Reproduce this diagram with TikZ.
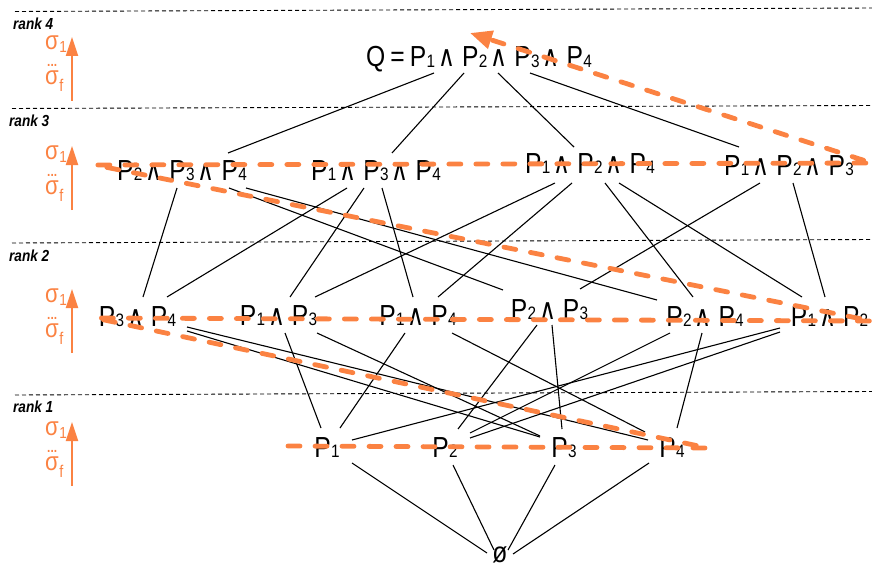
\documentclass[tikz,border=0pt]{standalone}
\usepackage{fontspec}
\setmainfont{Liberation Sans}[FakeStretch=0.85]
\newfontfamily\andfont{DejaVu Sans}[FakeStretch=0.8]
\usetikzlibrary{arrows.meta}
\definecolor{routecol}{RGB}{251,130,66}

\newcommand\nodefont{\fontsize{29}{30}\selectfont}
\newcommand\subfont{\fontsize{18}{18}\selectfont}
\newcommand\Pn[1]{P\kern0.3pt\raisebox{-0.5pt}{\subfont #1}}
\newcommand\AND{\kern3pt{\andfont\fontsize{29}{30}\selectfont ∧}\kern7pt}
\newcommand\sig[1]{σ\kern0.5pt\raisebox{-3pt}{\fontsize{16}{16}\selectfont #1}}
\newcommand\link[6]{\draw[edge] ([shift={(#2,#3)}]#1.base) -- ([shift={(#5,#6)}]#4.base);}

\begin{document}
\begin{tikzpicture}[x=1pt,y=-1pt,
  lbl/.style={inner sep=0pt, outer sep=0pt, anchor=base, font=\nodefont},
  edge/.style={black, line width=1.1pt},
  sep/.style={black, line width=0.9pt, dash pattern=on 4pt off 3pt},
  ranklbl/.style={inner sep=0pt, anchor=base west, font=\bfseries\itshape\fontsize{16}{16}\selectfont},
  siglbl/.style={inner sep=0pt, anchor=base west, text=routecol, font=\fontsize{26}{26}\selectfont},
  dotlbl/.style={inner sep=0pt, anchor=base west, text=routecol, font=\bfseries\fontsize{14}{14}\selectfont},
  sigarrow/.style={draw=routecol, line width=2.2pt, -{Triangle[length=19pt,width=12pt]}},
  route/.style={draw=routecol, line width=4.8pt, line cap=round, line join=round,
    dash pattern=on 12pt off 15pt, -{Triangle[length=22pt,width=18pt]}}]
\useasboundingbox (0,0) rectangle (872,567);

% rank separators
\draw[sep] (15,11.5) -- (872,8);
\draw[sep] (12,108.5) -- (872,105.5);
\draw[sep] (12,243) -- (872,239.5);
\draw[sep] (15,395) -- (872,391.5);

% rank labels
\node[ranklbl] (rk4) at (13,30) {rank 4};
\node[ranklbl] (rk3) at (9,127) {rank 3};
\node[ranklbl] (rk2) at (9,261) {rank 2};
\node[ranklbl] (rk1) at (13,412) {rank 1};

% ordering arrows sigma_1 ... sigma_f for each rank
\foreach \T/\k in {37/4,146/3,289/2,422/1}{
  \draw[sigarrow] (72,\T+64) -- (72,\T);
  \node[siglbl] (sa\k) at (45,\T+13) {\sig{1}};
  \node[dotlbl] (sd\k) at (47,\T+30) {...};
  \node[siglbl] (sb\k) at (45,\T+48) {σ\kern0.5pt\raisebox{-7pt}{\fontsize{17}{17}\selectfont f}};
}

% lattice nodes
\node[lbl] (q) at (479,67) {Q\kern5pt=\kern5pt\Pn1\AND\Pn2\AND\Pn3\AND\Pn4};

\node[lbl] (t234) at (182,180) {\Pn2\AND\Pn3\AND\Pn4};
\node[lbl] (t134) at (376,180) {\Pn1\AND\Pn3\AND\Pn4};
\node[lbl] (t124) at (590,173) {\Pn1\AND\Pn2\AND\Pn4};
\node[lbl] (t123) at (789,175) {\Pn1\AND\Pn2\AND\Pn3};

\node[lbl] (d34) at (137.5,326) {\Pn3\AND\Pn4};
\node[lbl] (d13) at (278.5,325) {\Pn1\AND\Pn3};
\node[lbl] (d14) at (418,325) {\Pn1\AND\Pn4};
\node[lbl] (d23) at (549.5,319) {\Pn2\AND\Pn3};
\node[lbl] (d24) at (705,326) {\Pn2\AND\Pn4};
\node[lbl] (d12) at (829.5,326) {\Pn1\AND\Pn2};

\node[lbl] (s1) at (327,457) {\Pn1};
\node[lbl] (s2) at (445,457) {\Pn2};
\node[lbl] (s3) at (564,457) {\Pn3};
\node[lbl] (s4) at (672,457) {\Pn4};

\node[lbl] (e) at (500,562) {ø};

% rank 4 -> rank 3
\link{q}{-45}{6}{t234}{46}{-27}
\link{q}{-15}{6}{t134}{16}{-27}
\link{q}{19}{6}{t124}{-16}{-26}
\link{q}{51}{6}{t123}{-50}{-28}

% rank 3 -> rank 2
\link{t234}{-5}{8}{d34}{5.5}{-29}
\link{t234}{47}{8}{d23}{-46.5}{-29}
\link{t234}{64}{8}{d24}{-48}{-26}
\link{t134}{-29}{8}{d34}{29.5}{-29}
\link{t134}{-12}{8}{d13}{11.5}{-28}
\link{t134}{6}{8}{d14}{-5}{-28}
\link{t124}{-35}{10}{d13}{36.5}{-28}
\link{t124}{-18}{10}{d14}{20}{-28}
\link{t124}{15}{10}{d24}{-12}{-29}
\link{t124}{29}{10}{d12}{-27.5}{-29}
\link{t123}{-29}{8}{d23}{30.5}{-30}
\link{t123}{4}{8}{d12}{-4.5}{-29}

% rank 2 -> rank 1
\link{d34}{49.5}{1}{s4}{-24}{-17}
\link{d34}{49.5}{5}{s3}{-24}{-20}
\link{d13}{6.5}{8}{s1}{-6}{-29}
\link{d13}{38.5}{8}{s3}{-24}{-21}
\link{d14}{-13}{8}{s1}{13}{-29}
\link{d14}{34}{8}{s4}{-27}{-25}
\link{d23}{-12.5}{6}{s2}{13}{-28}
\link{d23}{2.5}{6}{s3}{-2}{-28}
\link{d24}{-35}{7}{s2}{25}{-24}
\link{d24}{-3}{7}{s4}{5}{-29}
\link{d12}{-49.5}{2}{s1}{25}{-17}
\link{d12}{-49.5}{6}{s2}{25}{-19}

% rank 1 -> empty set
\link{s1}{25}{6}{e}{-13}{-9}
\link{s2}{8}{8}{e}{-6}{-12}
\link{s3}{-9}{8}{e}{8}{-12}
\link{s4}{-23}{6}{e}{13}{-8}

% traversal order through the ranks
\coordinate (r1a) at (288,446);
\coordinate (r1b) at (708,448);
\coordinate (r2a) at (95,318);
\coordinate (r2b) at (872,321);
\coordinate (r3a) at (95,165);
\coordinate (r3b) at (872,163);
\coordinate (rtop) at (470,33);
\draw[route] (r1a) -- (r1b) -- (r2a) -- (r2b) -- (r3a) -- (r3b) -- (rtop);
\end{tikzpicture}
\end{document}
